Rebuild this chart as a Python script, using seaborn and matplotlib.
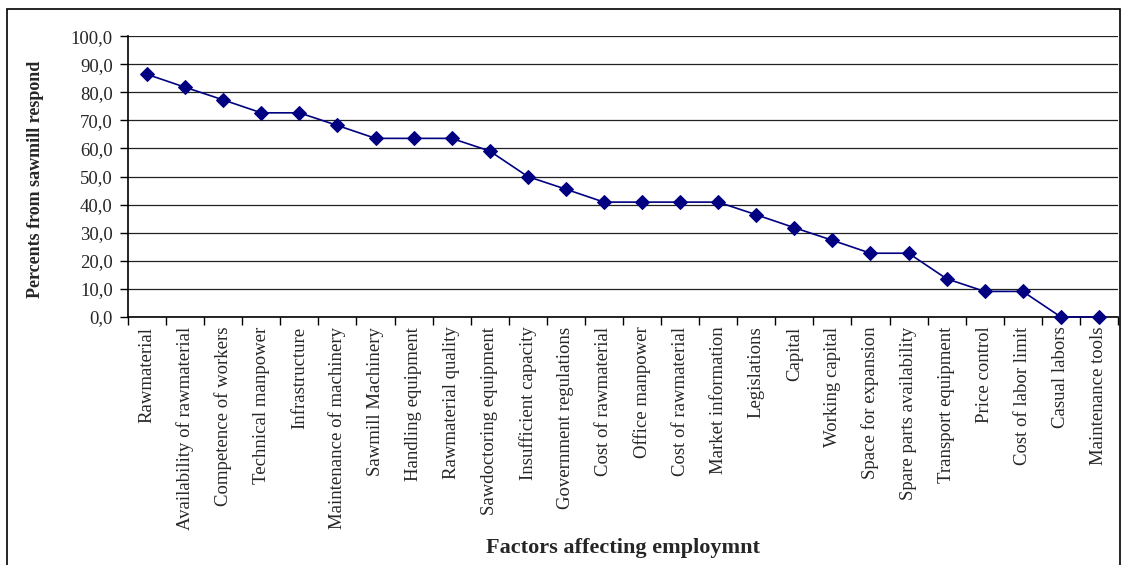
import matplotlib
matplotlib.use("Agg")
import matplotlib.pyplot as plt
import seaborn as sns
import pandas as pd
import numpy as np
from matplotlib.patches import Rectangle
from matplotlib.ticker import FixedLocator, FuncFormatter

factors = [
    "Rawmaterial", "Availability of rawmaterial", "Competence of workers",
    "Technical manpower", "Infrastructure", "Maintenance of machinery",
    "Sawmill Machinery", "Handling equipment", "Rawmaterial quality",
    "Sawdoctoring equipment", "Insufficient capacity", "Government regulations",
    "Cost of rawmaterial", "Office manpower", "Cost of rawmaterial",
    "Market information", "Legislations", "Capital", "Working capital",
    "Space for expansion", "Spare parts availability", "Transport equipment",
    "Price control", "Cost of labor limit", "Casual labors", "Maintenance tools",
]
percents = [
    86.4, 81.8, 77.3, 72.7, 72.7, 68.2, 63.6, 63.6, 63.6, 59.1, 50.0, 45.5,
    40.9, 40.9, 40.9, 40.9, 36.4, 31.8, 27.3, 22.7, 22.7, 13.6, 9.1, 9.1,
    0.0, 0.0,
]
y_ticks = [0, 10, 20, 30, 40, 50, 60, 70, 80, 90, 100]

sns.set_style("white")
plt.rcParams["font.family"] = ["Liberation Serif", "DejaVu Serif"]

df = pd.DataFrame({"pos": np.arange(len(factors)), "pct": percents})

fig = plt.figure(figsize=(11.23, 5.65), dpi=100)
ax = fig.add_axes([0.114, 0.439, 0.8815, 0.497])

navy = "#000080"
sns.lineplot(data=df, x="pos", y="pct", ax=ax, color=navy, linewidth=1.2,
             marker="D", markersize=7, markeredgecolor=navy,
             markerfacecolor=navy, clip_on=False, zorder=3)

ax.set_xlim(-0.5, len(factors) - 0.5)
ax.set_ylim(0, 100)

# Horizontal gridlines at every tick
ax.yaxis.set_major_locator(FixedLocator(y_ticks))
ax.yaxis.set_major_formatter(FuncFormatter(lambda v, p: f"{v:.1f}".replace(".", ",")))
ax.grid(axis="y", color="#222222", linewidth=0.9)
ax.grid(axis="x", visible=False)
ax.set_axisbelow(True)

# Category labels centred, tick marks between categories
ax.set_xticks(np.arange(len(factors)))
ax.set_xticklabels(factors, rotation=90, fontsize=13.5)
ax.set_xticks(np.arange(len(factors) + 1) - 0.5, minor=True)
ax.tick_params(axis="x", which="major", length=0, pad=7)
ax.tick_params(axis="x", which="minor", length=6, width=1, color="black",
               direction="out", bottom=True)
ax.tick_params(axis="y", length=6, width=1, color="black", direction="out",
               left=True, labelsize=13.5, pad=5)

for side in ["top", "right"]:
    ax.spines[side].set_visible(False)
for side in ["left", "bottom"]:
    ax.spines[side].set_color("black")
    ax.spines[side].set_linewidth(1.2)

ax.set_xlabel("")
ax.set_ylabel("")
fig.text(0.555, 0.03, "Factors affecting employmnt", ha="center", va="center",
         fontsize=16, fontweight="bold")
fig.text(0.032, 0.683, "Percents from sawmill respond", ha="center",
         va="center", rotation=90, fontsize=13, fontweight="bold")

# Frame around the whole chart
fig.patches.append(Rectangle((0.006, -0.01), 0.991, 0.994,
                             transform=fig.transFigure, fill=False,
                             edgecolor="black", linewidth=1.2))

fig.savefig("out.png", dpi=100)
